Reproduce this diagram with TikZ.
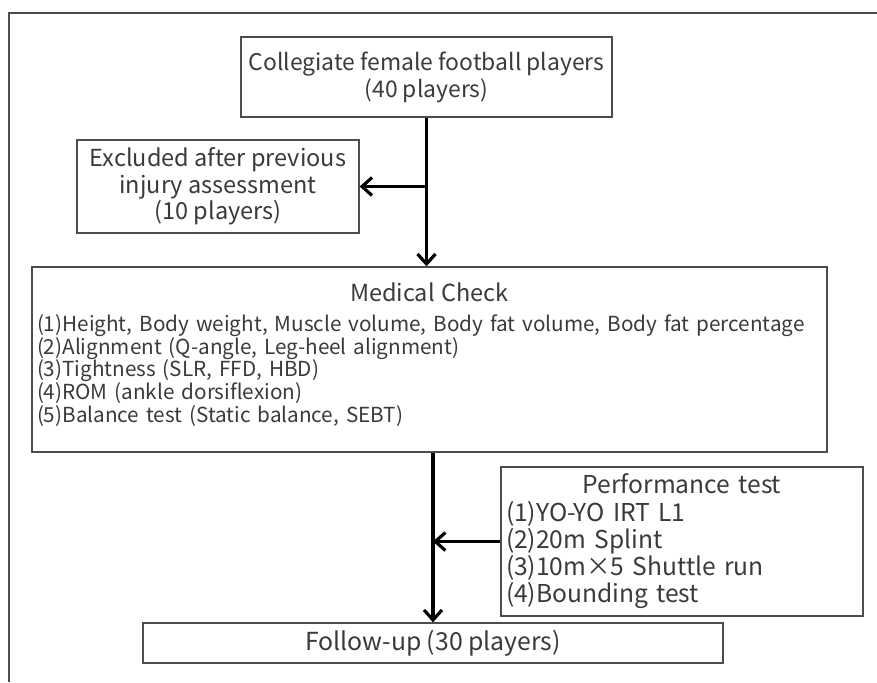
\documentclass[tikz,border=0pt]{standalone}
\usepackage{fontspec}
\setmainfont{Noto Sans CJK JP}
\usetikzlibrary{arrows.meta}
\definecolor{textgray}{HTML}{3A3A3A}
\definecolor{linegray}{HTML}{4D4D4D}
\newcommand{\boxtitle}[1]{\makebox[\hsize][c]{#1}}
\begin{document}
\begin{tikzpicture}[x=1pt, y=-1pt,
  box/.style={draw=linegray, line width=1.3pt, text=textgray, inner sep=0pt,
              align=center},
  listbox/.style={box, align=left, inner xsep=5pt},
  arr/.style={-{Straight Barb[length=10pt, width=18pt, line width=3.2pt]},
              line width=3.4pt}]
  \useasboundingbox (0,0) rectangle (877,682);
  \draw[linegray, line width=1.5pt] (877,13) -- (9,13) -- (9,682);
  \node[box, minimum width=371pt, minimum height=80pt,
        font=\fontsize{22.9}{27}\selectfont] (players) at (426.5,77)
        {Collegiate female football players\\(40 players)};
  \node[box, minimum width=282pt, minimum height=93pt,
        font=\fontsize{23.5}{26.7}\selectfont] (excluded) at (218,186.5)
        {Excluded after previous\\injury assessment\\(10 players)};
  \node[listbox, minimum width=795pt, minimum height=185pt, text width=785pt,
        font=\fontsize{20.7}{22.7}\selectfont] (medical) at (429.5,359.5)
        {\boxtitle{\fontsize{23.5}{22.7}\selectfont Medical Check}\\[7pt]
         (1)Height, Body weight, Muscle volume, Body fat volume, Body fat percentage\\
         (2)Alignment (Q-angle, Leg-heel alignment)\\
         (3)Tightness (SLR, FFD, HBD)\\
         (4)ROM (ankle dorsiflexion)\\
         (5)Balance test (Static balance, SEBT)\\[-9pt]\null};
  \node[listbox, minimum width=362pt, minimum height=149pt, text width=352pt,
        font=\fontsize{24.6}{27.3}\selectfont] (performance) at (682,541.5)
        {\boxtitle{Performance test}\\
         (1)YO-YO IRT L1\\
         (2)20m Splint\\
         (3)10m×5 Shuttle run\\
         (4)Bounding test};
  \node[box, minimum width=580pt, minimum height=40pt,
        font=\fontsize{24.8}{26}\selectfont] (followup) at (433,643)
        {Follow-up (30 players)};
  \draw[arr] (players.south) -- (players.south |- medical.north);
  \draw[arr] (players.south |- excluded.east) -- (excluded.east);
  \draw[arr] (followup.north |- medical.south) -- (followup.north);
  \draw[arr] (performance.west) -- (followup.north |- performance.west);
\end{tikzpicture}
\end{document}
